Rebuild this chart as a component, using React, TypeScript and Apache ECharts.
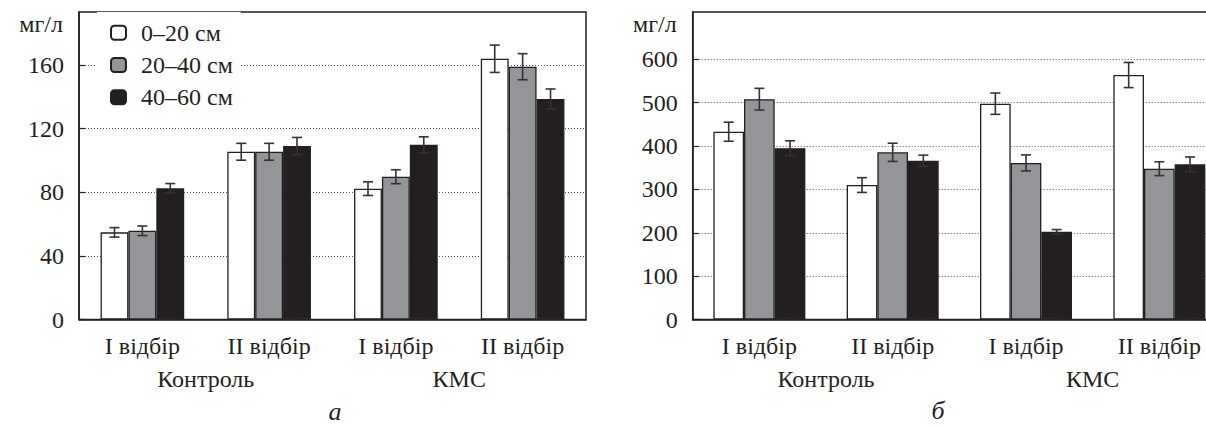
import React, { useEffect, useRef } from "react";
import * as echarts from "echarts";

const categories = ["I відбір", "II відбір", "I відбір", "II відбір"];
const groups = ["Контроль", "КМС"];
const seriesNames = ["0–20 см", "20–40 см", "40–60 см"];

// Panel a
const aWhite = [54.8, 105.5, 82.3, 164];
const aGray = [55.8, 105.5, 89.8, 159];
const aBlack = [82.5, 109.1, 109.9, 138.7];
const aWhiteErr = [3, 5.3, 4.3, 8.6];
const aGrayErr = [3, 5.3, 4.4, 8.2];
const aBlackErr = [3, 5.4, 5, 6.3];
const aTicks = [0, 40, 80, 120, 160];

// Panel б
const bWhite = [433, 310, 497.6, 563.7];
const bGray = [508, 385.5, 361, 347.7];
const bBlack = [395, 366, 202.4, 357.8];
const bWhiteErr = [22, 17, 24.6, 29];
const bGrayErr = [25, 21, 18.5, 16];
const bBlackErr = [17, 13, 5, 17];
const bTicks = [0, 100, 200, 300, 400, 500, 600];

const FONT = "Liberation Serif";
const FS = 24;
const INK = "#231f20";
const fills = ["#ffffff", "#939598", "#231f20"];

function buildPanel(
  gi: number,
  vals: number[][],
  errs: number[][],
  frac: number
) {
  const out: any[] = [];
  vals.forEach((arr, k) => {
    out.push({
      type: "bar",
      name: seriesNames[k],
      xAxisIndex: gi * 2,
      yAxisIndex: gi,
      data: arr,
      barWidth: (frac * 100).toFixed(2) + "%",
      barGap: "0%",
      itemStyle: { color: fills[k], borderColor: INK, borderWidth: 1.3 },
      z: 2,
    });
  });
  vals.forEach((arr, k) => {
    out.push({
      type: "custom",
      xAxisIndex: gi * 2,
      yAxisIndex: gi,
      z: 3,
      silent: true,
      data: arr.map((v, i) => [i, v, errs[k][i]]),
      renderItem: (params: any, api: any) => {
        const c = api.value(0);
        const v = api.value(1);
        const e = api.value(2);
        const band = api.size([1, 0])[0];
        const p = api.coord([c, v]);
        const x = p[0] + (k - 1) * band * frac;
        const yt = api.coord([c, v + e])[1];
        const yb = api.coord([c, v - e])[1];
        const cap = 5;
        const st = { stroke: "#333", lineWidth: 1.6 };
        return {
          type: "group",
          children: [
            { type: "line", shape: { x1: x, y1: yt, x2: x, y2: yb }, style: st },
            { type: "line", shape: { x1: x - cap, y1: yt, x2: x + cap, y2: yt }, style: st },
            { type: "line", shape: { x1: x - cap, y1: yb, x2: x + cap, y2: yb }, style: st },
          ],
        };
      },
    });
  });
  return out;
}

function yAxisDef(gi: number, max: number, ticks: number[]) {
  return {
    type: "value",
    gridIndex: gi,
    min: 0,
    max,
    name: "мг/л",
    nameLocation: "end",
    nameGap: -12,
    nameTextStyle: {
      fontFamily: FONT,
      fontSize: FS,
      color: INK,
      align: "right",
      verticalAlign: "middle",
      padding: [0, 16, 0, 0],
    },
    axisLine: { show: true, lineStyle: { color: INK, width: 1.5 } },
    axisTick: {
      show: true,
      inside: true,
      length: 6,
      customValues: ticks,
      lineStyle: { color: INK, width: 1.2 },
    },
    axisLabel: {
      customValues: ticks,
      margin: 15,
      fontFamily: FONT,
      fontSize: FS,
      color: INK,
    },
    splitLine: {
      show: true,
      lineStyle: { color: "#555", width: 1, type: [1, 2] },
    },
  };
}

function xAxesDef(gi: number) {
  return [
    {
      type: "category",
      gridIndex: gi,
      data: categories,
      axisLine: { show: true, lineStyle: { color: INK, width: 1.5 } },
      axisTick: { show: false },
      axisLabel: { margin: 14, fontFamily: FONT, fontSize: FS, color: INK },
      splitLine: { show: false },
    },
    {
      type: "category",
      gridIndex: gi,
      position: "bottom",
      data: groups,
      axisLine: { show: false },
      axisTick: { show: false },
      axisLabel: { margin: 47, fontFamily: FONT, fontSize: FS, color: INK },
      splitLine: { show: false },
    },
  ];
}

export default function App() {
  const ref = useRef<HTMLDivElement>(null);
  useEffect(() => {
    if (!ref.current) return;
    const chart = echarts.init(ref.current, undefined, { renderer: "svg" });
    const option: any = {
      animation: false,
      backgroundColor: "#ffffff",
      grid: [
        {
          left: 79,
          top: 12,
          width: 507,
          height: 307.5,
          show: true,
          borderColor: INK,
          borderWidth: 1.5,
          backgroundColor: "transparent",
        },
        {
          left: 692.7,
          top: 12,
          width: 533.3,
          height: 307.5,
          show: true,
          borderColor: INK,
          borderWidth: 1.5,
          backgroundColor: "transparent",
        },
      ],
      xAxis: [...xAxesDef(0), ...xAxesDef(1)],
      yAxis: [yAxisDef(0, 193.4, aTicks), yAxisDef(1, 709, bTicks)],
      legend: {
        data: seriesNames,
        orient: "vertical",
        left: 97,
        top: 12,
        padding: [8.7, 8, 8, 13],
        backgroundColor: "#ffffff",
        itemWidth: 15,
        itemHeight: 14,
        itemGap: 8.3,
        selectedMode: false,
        textStyle: {
          fontFamily: FONT,
          fontSize: FS,
          lineHeight: 24,
          color: INK,
          padding: [0, 0, 0, 10],
        },
      },
      graphic: [
        {
          type: "text",
          x: 335,
          y: 411,
          style: {
            text: "а",
            font: "italic 26px Liberation Serif",
            fill: INK,
            textAlign: "center",
            textVerticalAlign: "middle",
          },
        },
        {
          type: "text",
          x: 938,
          y: 410,
          style: {
            text: "б",
            font: "italic 26px Liberation Serif",
            fill: INK,
            textAlign: "center",
            textVerticalAlign: "middle",
          },
        },
      ],
      series: [
        ...buildPanel(0, [aWhite, aGray, aBlack], [aWhiteErr, aGrayErr, aBlackErr], 0.22),
        ...buildPanel(1, [bWhite, bGray, bBlack], [bWhiteErr, bGrayErr, bBlackErr], 0.23),
      ],
    };
    chart.setOption(option);
    return () => chart.dispose();
  }, []);
  return (
    <div
      style={{
        position: "fixed",
        left: 0,
        top: 0,
        width: 1206,
        height: 426,
        overflow: "hidden",
        background: "#fff",
      }}
    >
      <div ref={ref} style={{ width: 1240, height: 426 }} />
    </div>
  );
}
